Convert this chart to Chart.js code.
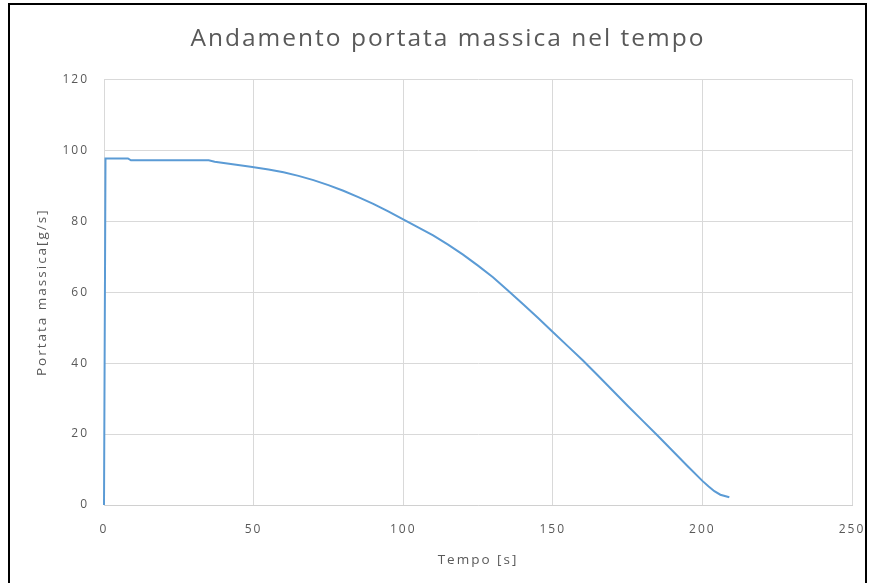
<!DOCTYPE html>
<html>
<head>
<meta charset="utf-8">
<title>Andamento portata massica nel tempo</title>
<script src="https://cdn.jsdelivr.net/npm/chart.js@4/dist/chart.umd.min.js"></script>
<style>
  html, body { margin: 0; padding: 0; background: #ffffff; }
  #wrap { position: relative; width: 873px; height: 583px; overflow: hidden; background: #ffffff; }
  #frame { position: absolute; left: 8px; top: 3px; width: 859px; height: 700px;
           border: 2px solid #000000; box-sizing: border-box; }
  #chart { position: absolute; left: 0; top: 0; }
</style>
</head>
<body>
<div id="wrap">
  <div id="frame"></div>
  <canvas id="chart" width="873" height="583"></canvas>
</div>
<script>
// Tempo [s]
const timeS = [
  0, 0.5, 8, 9, 35, 37, 43, 49, 55, 60,
  65, 70, 75, 80, 85, 90, 95, 100,
  105, 110, 115, 120, 125, 130, 135, 140, 145, 150,
  155, 160, 165, 170, 175, 180, 185, 190, 195, 200,
  202, 204, 206, 209
];
// Portata massica [g/s]
const flowGs = [
  0, 97.7, 97.7, 97.2, 97.2, 96.8, 96.1, 95.4, 94.6, 93.8,
  92.8, 91.6, 90.2, 88.6, 86.8, 84.9, 82.8, 80.5,
  78.3, 76.0, 73.4, 70.6, 67.5, 64.2, 60.5, 56.7, 52.8, 48.8,
  44.8, 40.8, 36.6, 32.3, 28.0, 23.8, 19.6, 15.3, 11.0, 6.8,
  5.3, 3.9, 2.9, 2.2
];
const xTickValues = [0, 50, 100, 150, 200, 250];
const yTickValues = [0, 20, 40, 60, 80, 100, 120];

const chartTitle = 'Andamento portata massica nel tempo';
const xTitle = 'Tempo [s]';
const yTitle = 'Portata massica[g/s]';

const points = timeS.map((t, i) => ({ x: t, y: flowGs[i] }));

const textGrey = '#595959';
const gridGrey = '#D9D9D9';

// Wide glyph spacing, applied before layout measures text and before drawing.
const spacing = {
  id: 'spacing',
  beforeUpdate(chart) { chart.ctx.letterSpacing = '2px'; },
  beforeDraw(chart) { chart.ctx.letterSpacing = '2px'; }
};

new Chart(document.getElementById('chart'), {
  type: 'scatter',
  data: {
    datasets: [{
      data: points,
      showLine: true,
      borderColor: '#5B9BD5',
      backgroundColor: '#5B9BD5',
      borderWidth: 2,
      pointRadius: 0,
      pointHoverRadius: 0,
      tension: 0,
      clip: 3
    }]
  },
  options: {
    responsive: false,
    animation: false,
    devicePixelRatio: 1,
    layout: { padding: { top: 0, left: 44, right: 21, bottom: 0 } },
    plugins: {
      legend: { display: false },
      tooltip: { enabled: false },
      title: {
        display: true,
        text: chartTitle,
        color: textGrey,
        font: { family: '"Open Sans", sans-serif', size: 24.5, weight: '400' },
        padding: { top: 24, bottom: 26 }
      }
    },
    scales: {
      x: {
        type: 'linear',
        min: 0,
        max: 250,
        afterBuildTicks(scale) { scale.ticks = xTickValues.map(v => ({ value: v })); },
        afterFit(scale) { scale.height = 78; },
        grid: {
          color: gridGrey,
          lineWidth: 1,
          drawTicks: true,
          tickLength: 17,
          tickColor: 'rgba(0,0,0,0)'
        },
        border: { display: true, color: '#D0D0D0', width: 1 },
        ticks: {
          color: textGrey,
          padding: 0,
          font: { family: '"Open Sans", sans-serif', size: 12 },
          maxRotation: 0
        },
        title: {
          display: true,
          text: xTitle,
          color: textGrey,
          font: { family: '"Open Sans", sans-serif', size: 13.5 },
          padding: { top: 0, bottom: 15 }
        }
      },
      y: {
        type: 'linear',
        min: 0,
        max: 120,
        afterBuildTicks(scale) { scale.ticks = yTickValues.map(v => ({ value: v })); },
        afterFit(scale) { scale.width = 60; },
        grid: { color: gridGrey, lineWidth: 1, drawTicks: false },
        border: { display: true, color: gridGrey, width: 1 },
        ticks: {
          color: textGrey,
          padding: 15,
          font: { family: '"Open Sans", sans-serif', size: 12 }
        },
        title: {
          display: true,
          text: yTitle,
          color: textGrey,
          font: { family: '"Open Sans", sans-serif', size: 13.5 },
          padding: { top: -10, bottom: 0 }
        }
      }
    }
  },
  plugins: [spacing]
});
</script>
</body>
</html>
